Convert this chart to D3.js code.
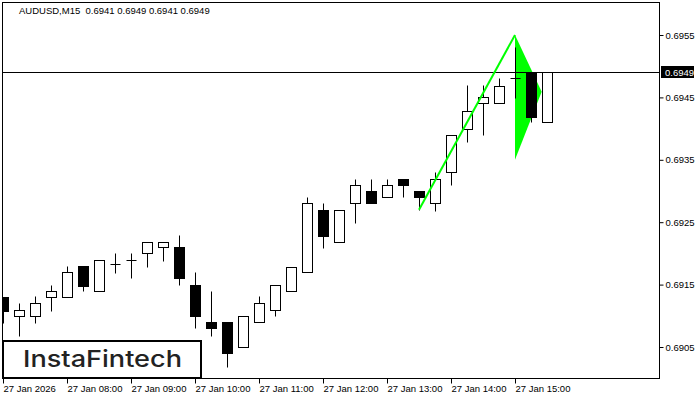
<!DOCTYPE html>
<html>
<head>
<meta charset="utf-8">
<script src="https://cdn.jsdelivr.net/npm/d3@7/dist/d3.min.js"></script>
<style>
  html, body { margin: 0; padding: 0; background: #fff; }
  svg { display: block; }
</style>
</head>
<body>
<script>
const title = "AUDUSD,M15  0.6941 0.6949 0.6941 0.6949";
const times = ["07:00","07:15","07:30","07:45","08:00","08:15","08:30","08:45",
  "09:00","09:15","09:30","09:45","10:00","10:15","10:30","10:45",
  "11:00","11:15","11:30","11:45","12:00","12:15","12:30","12:45",
  "13:00","13:15","13:30","13:45","14:00","14:15","14:30","14:45",
  "15:00","15:15","15:30"];
const opens  = [0.69130,0.69099,0.69099,0.69130,0.69130,0.69180,0.69139,0.69183,
  0.69189,0.69200,0.69210,0.69210,0.69149,0.69090,0.69090,0.69050,
  0.69090,0.69109,0.69139,0.69170,0.69269,0.69219,0.69280,0.69300,
  0.69290,0.69320,0.69300,0.69280,0.69330,0.69400,0.69441,0.69441,
  0.69481,0.69490,0.69410];
const highs  = [0.69130,0.69121,0.69131,0.69149,0.69180,0.69180,0.69189,0.69201,
  0.69201,0.69219,0.69219,0.69229,0.69170,0.69140,0.69090,0.69100,
  0.69131,0.69149,0.69179,0.69290,0.69281,0.69269,0.69320,0.69320,
  0.69320,0.69320,0.69300,0.69330,0.69389,0.69470,0.69470,0.69481,
  0.69531,0.69490,0.69490];
const lows   = [0.69089,0.69068,0.69089,0.69108,0.69130,0.69139,0.69139,0.69169,
  0.69160,0.69179,0.69188,0.69149,0.69080,0.69068,0.69018,0.69050,
  0.69090,0.69099,0.69139,0.69170,0.69209,0.69219,0.69249,0.69280,
  0.69290,0.69290,0.69270,0.69268,0.69309,0.69379,0.69389,0.69441,
  0.69449,0.69410,0.69410];
const closes = [0.69108,0.69109,0.69121,0.69140,0.69170,0.69148,0.69189,0.69183,
  0.69189,0.69219,0.69219,0.69160,0.69099,0.69080,0.69040,0.69100,
  0.69120,0.69149,0.69179,0.69280,0.69228,0.69269,0.69309,0.69280,
  0.69309,0.69309,0.69290,0.69320,0.69389,0.69429,0.69450,0.69469,
  0.69481,0.69419,0.69490];
const priceTicks = [0.6905, 0.6915, 0.6925, 0.6935, 0.6945, 0.6955];
const timeTicks = ["07:00","08:00","09:00","10:00","11:00","12:00","13:00","14:00","15:00"];
const timeTickLabels = ["27 Jan 2026","27 Jan 08:00","27 Jan 09:00","27 Jan 10:00","27 Jan 11:00",
  "27 Jan 12:00","27 Jan 13:00","27 Jan 14:00","27 Jan 15:00"];
const currentPrice = 0.6949;
const flagLine = [["13:30", 0.69270], ["15:00", 0.69550]];
const pennant = [["15:00", 0.69550], ["15:25", 0.69459], ["15:00", 0.69350]];
const logoText = "InstaFintech";

const W = 700, H = 400;
const frame = {left: 2, top: 2, right: 659, bottom: 378};
const parseT = s => { const [h, m] = s.split(":").map(Number); return new Date(2026, 0, 27, h, m); };

const x = d3.scaleTime().domain([parseT("07:00"), parseT("15:30")]).range([3, 547]);
const y = d3.scaleLinear().domain([0.6955, 0.6905]).range([35, 347]);

const svg = d3.select("body").append("svg").attr("width", W).attr("height", H)
  .style("font-family", "'Liberation Sans', Arial, sans-serif");

svg.append("defs").append("clipPath").attr("id", "plot")
  .append("rect").attr("x", frame.left).attr("y", frame.top)
  .attr("width", frame.right - frame.left).attr("height", frame.bottom - frame.top);

const plot = svg.append("g").attr("clip-path", "url(#plot)");

// pennant triangle (background)
plot.append("path")
  .attr("d", d3.line().x(d => x(parseT(d[0]))).y(d => y(d[1]))(pennant) + "Z")
  .attr("fill", "#00ff00").attr("stroke", "none");

// current price line
const cpY = Math.round(y(currentPrice)) + 0.5;
plot.append("line").attr("x1", frame.left).attr("x2", frame.right)
  .attr("y1", cpY).attr("y2", cpY).attr("stroke", "#000").attr("stroke-width", 1);

// candles
const data = times.map((t, i) => ({t: parseT(t), o: opens[i], h: highs[i], l: lows[i], c: closes[i]}));
const cg = plot.append("g");
const px = v => Math.round(v) + 0.5;
data.forEach(d => {
  const cx = px(x(d.t));
  cg.append("line").attr("x1", cx).attr("x2", cx)
    .attr("y1", px(y(d.h))).attr("y2", px(y(d.l))).attr("stroke", "#000");
  const yo = px(y(d.o)), yc = px(y(d.c));
  const top = Math.min(yo, yc), bot = Math.max(yo, yc);
  if (bot - top < 1) {
    cg.append("line").attr("x1", cx - 5).attr("x2", cx + 5)
      .attr("y1", top).attr("y2", top).attr("stroke", "#000");
  } else {
    cg.append("rect").attr("x", cx - 5).attr("y", top)
      .attr("width", 10).attr("height", bot - top)
      .attr("fill", d.c < d.o ? "#000" : "#fff").attr("stroke", "#000");
  }
});

// flag pole line
plot.append("path")
  .attr("d", d3.line().x(d => x(parseT(d[0]))).y(d => y(d[1]))(flagLine))
  .attr("fill", "none").attr("stroke", "#00ff00").attr("stroke-width", 2);

// frame
svg.append("rect").attr("x", frame.left + 0.5).attr("y", frame.top + 0.5)
  .attr("width", frame.right - frame.left).attr("height", frame.bottom - frame.top)
  .attr("fill", "none").attr("stroke", "#000");

// right axis
const yAxis = d3.axisRight(y).tickValues(priceTicks).tickFormat(d3.format(".4f"))
  .tickSize(4).tickPadding(2);
const ya = svg.append("g").attr("transform", `translate(${frame.right + 0.5},0)`).call(yAxis);
ya.select(".domain").remove();
ya.selectAll("text").attr("font-size", "9.5px").attr("font-family", "'Liberation Sans', Arial, sans-serif").attr("fill", "#000");
ya.selectAll("line").attr("stroke", "#000");

// current price label
const cpg = svg.append("g");
cpg.append("rect").attr("x", frame.right + 2).attr("y", cpY - 6.5).attr("width", 33).attr("height", 12).attr("fill", "#000");
cpg.append("text").attr("x", frame.right + 6).attr("y", cpY).attr("dy", "0.34em")
  .attr("font-size", "9.5px").attr("fill", "#fff").text(d3.format(".4f")(currentPrice));

// bottom axis
const xAxis = d3.axisBottom(x).tickValues(timeTicks.map(parseT))
  .tickFormat((d, i) => timeTickLabels[i]).tickSize(5).tickPadding(2);
const xa = svg.append("g").attr("transform", `translate(0,${frame.bottom + 0.5})`).call(xAxis);
xa.select(".domain").remove();
xa.selectAll("text").attr("text-anchor", "start").attr("font-size", "9.5px")
  .attr("font-family", "'Liberation Sans', Arial, sans-serif").attr("fill", "#000");
xa.selectAll(".tick line").attr("stroke", "#000");

// title
svg.append("text").attr("x", 19).attr("y", 14).attr("font-size", "9.5px").attr("fill", "#000")
  .attr("xml:space", "preserve").style("white-space", "pre").text(title);

// logo
svg.append("rect").attr("x", 3).attr("y", 341).attr("width", 198).attr("height", 37)
  .attr("fill", "#fff").attr("stroke", "#000").attr("stroke-width", 2);
svg.append("text").attr("x", 23).attr("y", 367).attr("font-size", "23px")
  .attr("font-family", "Inter, 'Open Sans', sans-serif").attr("font-weight", 500)
  .attr("fill", "#222").attr("textLength", 159).attr("lengthAdjust", "spacingAndGlyphs")
  .text(logoText);
</script>
</body>
</html>
